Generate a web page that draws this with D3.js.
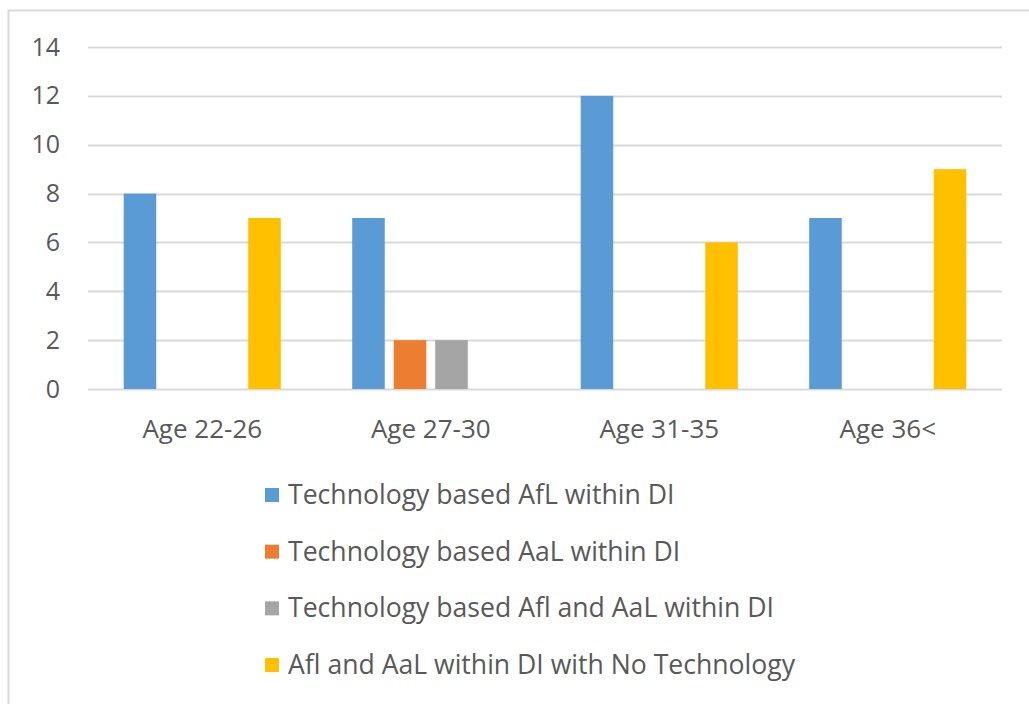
<!DOCTYPE html>
<html>
<head>
<meta charset="utf-8">
<script src="https://cdn.jsdelivr.net/npm/d3@7"></script>
<style>
  html, body { margin: 0; padding: 0; background: #fff; }
  svg { display: block; }
  text { font-family: "Open Sans", sans-serif; fill: #595959; }
</style>
</head>
<body>
<svg id="chart" width="1029" height="704"></svg>
<script>
// Age groups along the x axis
const categories = ["Age 22-26", "Age 27-30", "Age 31-35", "Age 36<"];
// One array per series, in category order
const seriesNames = [
  "Technology based AfL within DI",
  "Technology based AaL within DI",
  "Technology based Afl and AaL within DI",
  "Afl and AaL within DI with No Technology"
];
const techAfL = [8, 7, 12, 7];
const techAaL = [0, 2, 0, 0];
const techAflAaL = [0, 2, 0, 0];
const noTech = [7, 0, 6, 9];
const yTicks = [0, 2, 4, 6, 8, 10, 12, 14];
const colors = ["#5b9bd5", "#ed7d31", "#a5a5a5", "#ffc000"];

const seriesValues = [techAfL, techAaL, techAflAaL, noTech];

const svg = d3.select("#chart");

// Chart frame
svg.append("rect")
  .attr("x", 8.5).attr("y", 10.5)
  .attr("width", 1040).attr("height", 720)
  .attr("fill", "none").attr("stroke", "#d9d9d9").attr("stroke-width", 2);

const plot = { left: 88, right: 1002, top: 47, bottom: 389 };

const x0 = d3.scaleBand().domain(categories)
  .range([plot.left, plot.right]).paddingInner(0).paddingOuter(0);
const x1 = d3.scaleBand().domain(d3.range(seriesNames.length))
  .range([0, x0.bandwidth()]).paddingInner(0.216).paddingOuter(0.86);
const y = d3.scaleLinear().domain([0, 14]).range([plot.bottom, plot.top]);

// Horizontal gridlines
svg.append("g").selectAll("line").data(yTicks).join("line")
  .attr("x1", plot.left).attr("x2", plot.right)
  .attr("y1", d => Math.round(y(d)) + 0.5).attr("y2", d => Math.round(y(d)) + 0.5)
  .attr("stroke", "#d9d9d9").attr("stroke-width", 2);

// Y axis labels
const yAxis = d3.axisLeft(y).tickValues(yTicks).tickSize(0).tickPadding(0);
const gy = svg.append("g").attr("transform", "translate(60,0)").call(yAxis);
gy.select(".domain").remove();
gy.selectAll("text").attr("font-size", 25).attr("font-family", "'Open Sans', sans-serif")
  .attr("fill", "#595959");

// Bars
const groups = svg.append("g").selectAll("g").data(categories).join("g")
  .attr("transform", c => `translate(${x0(c)},0)`);
groups.selectAll("rect")
  .data((c, ci) => seriesValues.map((vals, si) => ({ si, v: vals[ci] })))
  .join("rect")
  .attr("x", d => x1(d.si))
  .attr("width", x1.bandwidth())
  .attr("y", d => y(d.v))
  .attr("height", d => y(0) - y(d.v))
  .attr("fill", d => colors[d.si]);

// X axis labels
const xAxis = d3.axisBottom(x0).tickSize(0).tickPadding(0);
const gx = svg.append("g").attr("transform", `translate(0,${plot.bottom + 49})`).call(xAxis);
gx.select(".domain").remove();
gx.selectAll("text").attr("font-size", 26).attr("font-family", "'Open Sans', sans-serif")
  .attr("fill", "#595959").attr("dy", 0);

// Legend
const legendY = d3.scalePoint().domain(d3.range(seriesNames.length)).range([495, 665]);
const legend = svg.append("g").selectAll("g").data(seriesNames).join("g")
  .attr("transform", (d, i) => `translate(265,${legendY(i)})`);
legend.append("rect")
  .attr("x", 0).attr("y", -7).attr("width", 14).attr("height", 14)
  .attr("fill", (d, i) => colors[i]);
legend.append("text")
  .attr("x", 23).attr("y", 9)
  .attr("font-size", 26.6)
  .text(d => d);
</script>
</body>
</html>
